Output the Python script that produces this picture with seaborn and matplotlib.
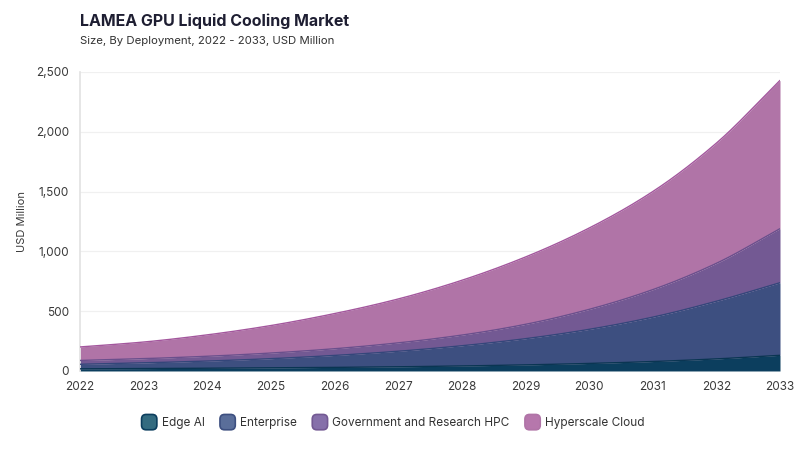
import numpy as np
import pandas as pd
import matplotlib
matplotlib.use("Agg")
import matplotlib.pyplot as plt
import seaborn as sns
from matplotlib.patches import FancyBboxPatch
from matplotlib.legend_handler import HandlerPatch

years = [2022, 2023, 2024, 2025, 2026, 2027, 2028, 2029, 2030, 2031, 2032, 2033]
edge_ai = [18, 20, 23, 26, 30, 35, 42, 51, 63, 79, 101, 131]
enterprise = [38, 48, 60, 77, 100, 130, 169, 219, 285, 371, 482, 607]
government_hpc = [32, 35, 40, 47, 56, 70, 89, 120, 167, 230, 317, 452]
hyperscale = [113, 139, 179, 230, 294, 367, 458, 563, 680, 820, 1005, 1240]

series_names = ["Edge AI", "Enterprise", "Government and Research HPC", "Hyperscale Cloud"]
fill_colors = ["#0c3e5e", "#3d4f80", "#735993", "#b074a7"]
line_colors = ["#0a3552", "#34467a", "#6a4f8c", "#a3579d"]
legend_colors = ["#336b80", "#5a6e9a", "#8670aa", "#b677ac"]

title = "LAMEA GPU Liquid Cooling Market"
subtitle = "Size, By Deployment, 2022 - 2033, USD Million"
y_label = "USD Million"
y_ticks = [0, 500, 1000, 1500, 2000, 2500]

df = pd.DataFrame({"Year": years, "Edge AI": edge_ai, "Enterprise": enterprise,
                   "Government and Research HPC": government_hpc,
                   "Hyperscale Cloud": hyperscale})


def smooth_path(x, y, n=400):
    """Monotone cubic (Fritsch-Carlson) rendering of the line through the data points."""
    x = np.asarray(x, float)
    y = np.asarray(y, float)
    h = np.diff(x)
    d = np.diff(y) / h
    m = np.zeros_like(y)
    m[0], m[-1] = d[0], d[-1]
    for i in range(1, len(y) - 1):
        if d[i - 1] * d[i] <= 0:
            m[i] = 0
        else:
            w1 = 2 * h[i] + h[i - 1]
            w2 = h[i] + 2 * h[i - 1]
            m[i] = (w1 + w2) / (w1 / d[i - 1] + w2 / d[i])
    xs = np.linspace(x[0], x[-1], n)
    idx = np.clip(np.searchsorted(x, xs) - 1, 0, len(x) - 2)
    t = (xs - x[idx]) / h[idx]
    h00 = 2 * t**3 - 3 * t**2 + 1
    h10 = t**3 - 2 * t**2 + t
    h01 = -2 * t**3 + 3 * t**2
    h11 = t**3 - t**2
    ys = h00 * y[idx] + h10 * h[idx] * m[idx] + h01 * y[idx + 1] + h11 * h[idx] * m[idx + 1]
    return xs, ys


sns.set_theme(style="white")
plt.rcParams["font.family"] = ["Inter", "DejaVu Sans"]

fig = plt.figure(figsize=(8, 4.5), dpi=100)
ax = fig.add_axes([0.1, 0.1756, 0.875, 0.6644])

cum = np.zeros(len(years))
lower_s = None
for name, fc, lc in zip(series_names, fill_colors, line_colors):
    cum = cum + df[name].to_numpy()
    xs, ys = smooth_path(df["Year"], cum)
    if lower_s is None:
        lower_s = np.zeros_like(ys)
    ax.fill_between(xs, lower_s, ys, color=fc, linewidth=0, zorder=2)
    top = pd.DataFrame({"Year": xs, "v": ys})
    sns.lineplot(data=top, x="Year", y="v", ax=ax, color=lc, linewidth=1.0, zorder=3)
    lower_s = ys

ax.set_xlim(2022, 2033)
ax.set_ylim(0, 2500)
ax.set_xticks(years)
ax.set_xticklabels([str(y) for y in years])
ax.set_yticks(y_ticks)
ax.set_yticklabels([f"{t:,}" for t in y_ticks])
ax.grid(axis="y", color="#f0f0f0", linewidth=0.9, zorder=0)
ax.set_axisbelow(True)
for s in ["top", "right", "bottom"]:
    ax.spines[s].set_visible(False)
ax.spines["left"].set_color("#e2e2e2")
ax.spines["left"].set_linewidth(1.2)
ax.tick_params(axis="both", length=0, labelsize=8.5, labelcolor="#3a3a3a")
ax.tick_params(axis="x", pad=7)
ax.tick_params(axis="y", pad=8)
ax.set_xlabel("")
ax.set_ylabel(y_label, fontsize=8, color="#3a3a3a", labelpad=6)

fig.text(0.1, 0.952, title, fontsize=11.5, fontweight="bold", color="#1e1e32", ha="left", va="center")
fig.text(0.1, 0.908, subtitle, fontsize=8.2, color="#333333", ha="left", va="center")


class RoundHandler(HandlerPatch):
    def create_artists(self, legend, orig_handle, xdescent, ydescent, width, height, fontsize, trans):
        s = height * 1.45
        p = FancyBboxPatch((-xdescent + (width - s) / 2, -ydescent + (height - s) / 2), s, s,
                           boxstyle="round,pad=0,rounding_size=%f" % (s * 0.3),
                           facecolor=orig_handle.get_facecolor(), edgecolor=orig_handle.get_edgecolor(),
                           linewidth=1.2, transform=trans)
        return [p]


handles = [plt.Rectangle((0, 0), 1, 1, facecolor=lc, edgecolor=fc) for lc, fc in zip(legend_colors, fill_colors)]
leg = fig.legend(handles, series_names, loc="center", bbox_to_anchor=(0.492, 0.06), ncol=4, frameon=False,
                 fontsize=8.5, handler_map={plt.Rectangle: RoundHandler()}, handlelength=1.1, handleheight=1.0,
                 handletextpad=0.5, columnspacing=1.4)
for t in leg.get_texts():
    t.set_color("#333333")

fig.savefig("out.png", dpi=100)
